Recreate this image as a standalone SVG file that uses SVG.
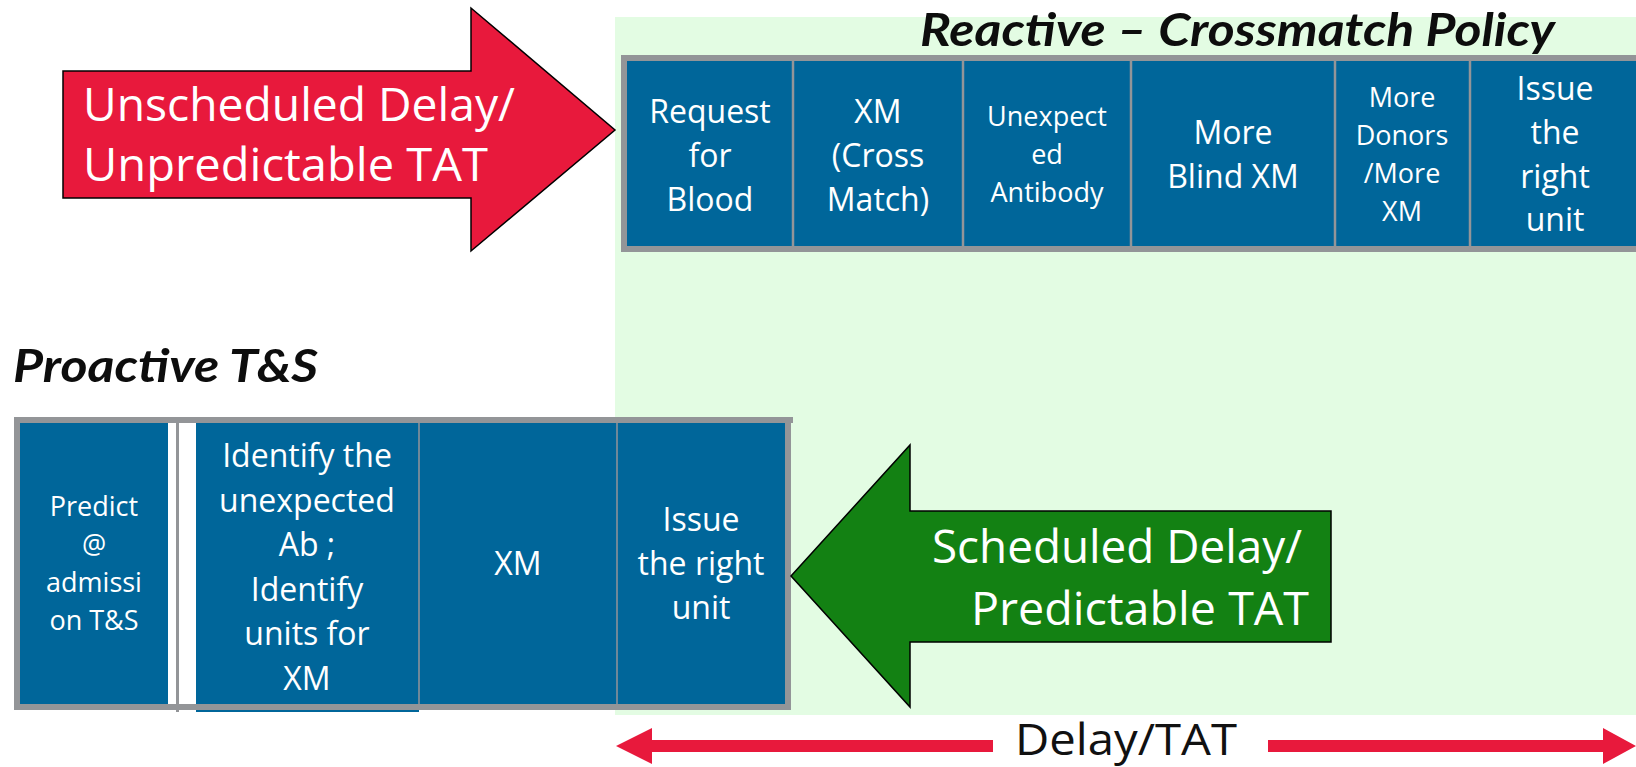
<svg xmlns="http://www.w3.org/2000/svg" width="1636" height="767" viewBox="0 0 1636 767">
<style>
.cell{fill:#00669A}
.frame{fill:#939598}
.div{stroke:#939598;stroke-width:2.5}
.t{font-family:"Open Sans","DejaVu Sans",sans-serif;fill:#FFFFFF;text-anchor:middle}
.big{font-size:32px}
.sm{font-size:27px}
.arrowtxt{font-family:"Open Sans","DejaVu Sans",sans-serif;font-size:46px;fill:#FFFFFF}
.title{font-family:Lato,"Open Sans",sans-serif;font-weight:bold;font-style:italic;font-size:45px;fill:#0D0D0D}
.red{fill:#E8193C}
</style>
<rect x="0" y="0" width="1636" height="767" fill="#FFFFFF"/>
<rect id="reactive-zone" x="615" y="17" width="1021" height="698" fill="#E3FCE3"/>

<g id="unscheduled-arrow">
<path d="M63,71 L471,71 L471,8 L615,130 L471,251 L471,198 L63,198 Z" fill="#E8193C" stroke="#000" stroke-width="1.5"/>
<text class="arrowtxt" x="83" y="121" textLength="432" lengthAdjust="spacingAndGlyphs">Unscheduled Delay/</text>
<text class="arrowtxt" x="83" y="181" textLength="405" lengthAdjust="spacingAndGlyphs">Unpredictable TAT</text>
</g>

<g id="reactive-table">
<rect class="frame" x="621" y="55" width="1030" height="197"/>
<rect class="cell" x="627" y="61" width="1024" height="185"/>
<line class="div" x1="793" y1="61" x2="793" y2="246"/>
<line class="div" x1="963" y1="61" x2="963" y2="246"/>
<line class="div" x1="1131" y1="61" x2="1131" y2="246"/>
<line class="div" x1="1335" y1="61" x2="1335" y2="246"/>
<line class="div" x1="1470" y1="61" x2="1470" y2="246"/>
</g>
<g id="cell-request">
<text class="t big" x="710" y="123">Request</text>
<text class="t big" x="710" y="167">for</text>
<text class="t big" x="710" y="211">Blood</text>
</g>
<g id="cell-xm">
<text class="t big" x="878" y="123">XM</text>
<text class="t big" x="878" y="167">(Cross</text>
<text class="t big" x="878" y="211">Match)</text>
</g>
<g id="cell-unexpected">
<text class="t sm" x="1047" y="126">Unexpect</text>
<text class="t sm" x="1047" y="164">ed</text>
<text class="t sm" x="1047" y="202">Antibody</text>
</g>
<g id="cell-blind">
<text class="t big" x="1233" y="144">More</text>
<text class="t big" x="1233" y="188">Blind XM</text>
</g>
<g id="cell-donors">
<text class="t sm" x="1402" y="107">More</text>
<text class="t sm" x="1402" y="145">Donors</text>
<text class="t sm" x="1402" y="183">/More</text>
<text class="t sm" x="1402" y="221">XM</text>
</g>
<g id="cell-issue-top">
<text class="t big" x="1555" y="100">Issue</text>
<text class="t big" x="1555" y="144">the</text>
<text class="t big" x="1555" y="188">right</text>
<text class="t big" x="1555" y="231">unit</text>
</g>

<g id="reactive-title">
<text class="title" x="920" y="46" textLength="635" lengthAdjust="spacingAndGlyphs">Reactive – Crossmatch Policy</text>
</g>

<g id="proactive-table">
<rect class="frame" x="14" y="417" width="779" height="6"/>
<rect class="frame" x="14" y="417" width="6" height="293"/>
<rect class="frame" x="785" y="417" width="6" height="293"/>
<rect class="cell" x="20" y="423" width="148" height="281"/>
<rect class="cell" x="196" y="423" width="223" height="289"/>
<rect class="cell" x="419" y="423" width="366" height="281"/>
<line x1="177.5" y1="423" x2="177.5" y2="712" stroke="#939598" stroke-width="3"/>
<line x1="419" y1="423" x2="419" y2="704" stroke="#939598" stroke-width="1.5"/>
<line x1="617" y1="423" x2="617" y2="704" stroke="#939598" stroke-width="1.5"/>
<rect class="frame" x="14" y="704" width="777" height="6"/>
</g>
<g id="cell-predict">
<text class="t sm" x="94" y="516">Predict</text>
<text class="t sm" x="94" y="554">@</text>
<text class="t sm" x="94" y="592">admissi</text>
<text class="t sm" x="94" y="630">on T&amp;S</text>
</g>
<g id="cell-identify">
<text class="t big" x="307" y="467">Identify the</text>
<text class="t big" x="307" y="511.6">unexpected</text>
<text class="t big" x="307" y="556.2">Ab ;</text>
<text class="t big" x="307" y="600.8">Identify</text>
<text class="t big" x="307" y="645.4">units for</text>
<text class="t big" x="307" y="690">XM</text>
</g>
<g id="cell-xm-bottom">
<text class="t big" x="518" y="575">XM</text>
</g>
<g id="cell-issue-bottom">
<text class="t big" x="701" y="531">Issue</text>
<text class="t big" x="701" y="575">the right</text>
<text class="t big" x="701" y="619">unit</text>
</g>

<g id="scheduled-arrow">
<path d="M791,576 L910,445 L910,511 L1331,511 L1331,642 L910,642 L910,707 Z" fill="#138113" stroke="#000" stroke-width="1.5"/>
<text class="arrowtxt" x="932" y="563" textLength="370" lengthAdjust="spacingAndGlyphs">Scheduled Delay/</text>
<text class="arrowtxt" x="971" y="625" textLength="338" lengthAdjust="spacingAndGlyphs">Predictable TAT</text>
</g>

<g id="proactive-title">
<text class="title" x="13" y="382" textLength="305" lengthAdjust="spacingAndGlyphs">Proactive T&amp;S</text>
</g>

<g id="connectors">
<path class="red" d="M616,746 L652,728 L652,740 L993,740 L993,752 L652,752 L652,764 Z"/>
<path class="red" d="M1268,740 L1603,740 L1603,728 L1636,746 L1603,764 L1603,752 L1268,752 Z"/>
<text x="1015" y="755" font-family="'Open Sans','DejaVu Sans',sans-serif" font-size="44" fill="#111111" textLength="222" lengthAdjust="spacingAndGlyphs">Delay/TAT</text>
</g>
</svg>
